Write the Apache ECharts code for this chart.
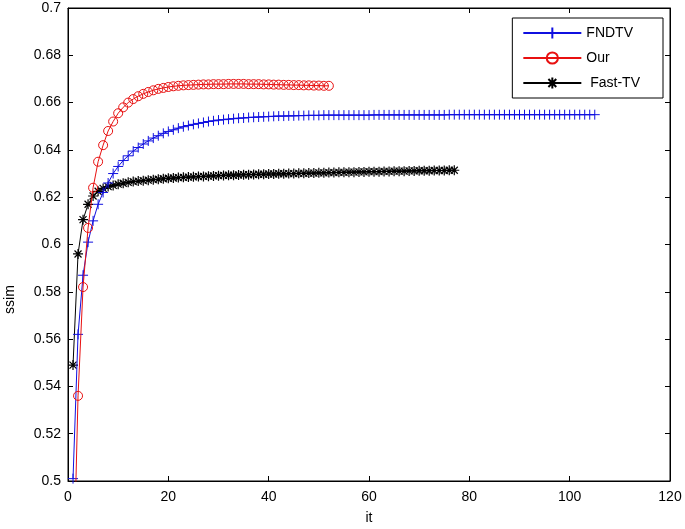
<!DOCTYPE html>
<html>
<head>
<meta charset="utf-8">
<script src="https://cdn.jsdelivr.net/npm/echarts@6/dist/echarts.min.js"></script>
<style>html,body{margin:0;padding:0;background:#fff}#c{width:685px;height:529px}</style>
</head>
<body>
<div id="c"></div>
<script>
var seriesNames = ['FNDTV', 'Our', ' Fast-TV'];
var xTicks = [0, 20, 40, 60, 80, 100, 120];
var yTicks = [0.5, 0.52, 0.54, 0.56, 0.58, 0.6, 0.62, 0.64, 0.66, 0.68, 0.7];

var fndtv = [0.501,0.562,0.587,0.601,0.610,0.617,0.622,0.626,0.630,0.633,
0.6355,0.6375,0.6395,0.641,0.6425,0.6438,0.645,0.646,0.647,0.6478,
0.6485,0.6492,0.6498,0.6503,0.6508,0.6512,0.6516,0.652,0.6523,0.6526,
0.6528,0.653,0.6532,0.6534,0.6535,0.6537,0.6538,0.6539,0.654,0.6541,
0.6542,0.6543,0.6543,0.6544,0.6544,0.6545,0.6545,0.6546,0.6546,0.6546,
0.6547,0.6547,0.6547,0.6547,0.6547,0.6547,0.6547,0.6547,0.6547,0.6547,
0.6548,0.6548,0.6548,0.6548,0.6548,0.6548,0.6548,0.6548,0.6548,0.6548,
0.6548,0.6548,0.6548,0.6548,0.6548,0.6549,0.6549,0.6549,0.6549,0.6549,
0.6549,0.6549,0.6549,0.6549,0.6549,0.6549,0.6549,0.6549,0.6549,0.6549,
0.6549,0.6549,0.6549,0.6549,0.6549,0.6549,0.6549,0.6549,0.6549,0.6549,
0.6549,0.6549,0.6549,0.6549,0.6549];

var our = [0.45,0.536,0.582,0.607,0.624,0.635,0.642,0.648,0.652,0.6555,
0.658,0.66,0.6615,0.6627,0.6637,0.6645,0.6652,0.6658,0.6662,0.6666,
0.6669,0.6671,0.6673,0.6674,0.6675,0.6676,0.6677,0.6677,0.6678,0.6678,
0.6678,0.6679,0.6679,0.6679,0.6679,0.6678,0.6678,0.6678,0.6677,0.6677,
0.6676,0.6676,0.6675,0.6675,0.6674,0.6674,0.6673,0.6673,0.6672,0.6672,
0.6671,0.6671];

var fastTV = [0.549,0.596,0.6105,0.617,0.6205,0.6225,0.6237,0.6245,0.625,0.6255,
0.6259,0.6263,0.6266,0.6268,0.627,0.6272,0.6274,0.6276,0.6278,0.628,
0.6281,0.6283,0.6284,0.6285,0.6286,0.6287,0.6288,0.6289,0.629,0.6291,
0.6292,0.6293,0.6293,0.6294,0.6295,0.6295,0.6296,0.6297,0.6297,0.6298,
0.6298,0.6299,0.6299,0.63,0.63,0.6301,0.6301,0.6302,0.6302,0.6303,
0.6303,0.6304,0.6304,0.6305,0.6305,0.6306,0.6306,0.6307,0.6307,0.6308,
0.6308,0.6308,0.6309,0.6309,0.631,0.631,0.631,0.6311,0.6311,0.6312,
0.6312,0.6312,0.6313,0.6313,0.6313,0.6314,0.6314];

function pairs(arr){ return arr.map(function(v,i){ return [i+1, v]; }); }

var FONT = 'Liberation Sans';
var plusPath = 'path://M0,-1L0,1M-1,0L1,0';
var starPath = 'path://M0,-1L0,1M-1,0L1,0M-0.7,-0.7L0.7,0.7M-0.7,0.7L0.7,-0.7';

var chart = echarts.init(document.getElementById('c'), null, {renderer:'canvas'});
var axisCommon = {
  axisLine: {show: true, onZero: false, lineStyle: {color: '#000', width: 1}},
  axisTick: {show: true, inside: true, length: 5, lineStyle: {color: '#000'}},
  splitLine: {show: false}
};
chart.setOption({
  animation: false,
  backgroundColor: '#fff',
  grid: {left: 68, right: 15, top: 8, bottom: 48, show: true, borderColor: '#000', borderWidth: 1,
    backgroundColor: 'transparent', outerBoundsMode: 'none', containLabel: false},
  legend: {
    orient: 'vertical', right: 22, top: 18,
    backgroundColor: '#fff', borderColor: '#000', borderWidth: 1,
    padding: [8, 23, 8, 10], itemGap: 11, itemWidth: 58, itemHeight: 14,
    textStyle: {fontFamily: FONT, fontSize: 14, color: '#000'},
    data: seriesNames
  },
  xAxis: [
    Object.assign({type: 'value', min: xTicks[0], max: xTicks[xTicks.length-1], interval: 20,
      name: 'it', nameLocation: 'middle', nameGap: 30,
      nameTextStyle: {fontFamily: FONT, fontSize: 14, color: '#000'},
      axisLabel: {fontFamily: FONT, fontSize: 14, color: '#000', margin: 9}}, axisCommon),
    Object.assign({type: 'value', position: 'top', min: 0, max: 120, interval: 20,
      axisLabel: {show: false}}, axisCommon)
  ],
  yAxis: [
    Object.assign({type: 'value', min: yTicks[0], max: yTicks[yTicks.length-1], interval: 0.02,
      name: 'ssim', nameLocation: 'middle', nameGap: 51,
      nameTextStyle: {fontFamily: FONT, fontSize: 14, color: '#000', padding: [0, 110, 0, 0]},
      axisLabel: {fontFamily: FONT, fontSize: 14, color: '#000', margin: 7}}, axisCommon),
    Object.assign({type: 'value', position: 'right', min: 0.5, max: 0.7, interval: 0.02,
      axisLabel: {show: false}}, axisCommon)
  ],
  series: [
    {name: seriesNames[0], type: 'line', data: pairs(fndtv), symbol: plusPath, symbolSize: 10,
      showAllSymbol: true, clip: true,
      lineStyle: {color: '#1010e0', width: 1},
      itemStyle: {color: '#1010e0', borderColor: '#1010e0', borderWidth: 1}, z: 3},
    {name: seriesNames[1], type: 'line', data: pairs(our), symbol: 'circle', symbolSize: 9,
      showAllSymbol: true, clip: true,
      lineStyle: {color: '#e81010', width: 1},
      itemStyle: {color: 'rgba(255,255,255,0)', borderColor: '#e81010', borderWidth: 1}, z: 4},
    {name: seriesNames[2], type: 'line', data: pairs(fastTV), symbol: starPath, symbolSize: 10,
      showAllSymbol: true, clip: true,
      lineStyle: {color: '#000', width: 1},
      itemStyle: {color: '#000', borderColor: '#000', borderWidth: 1.2}, z: 2}
  ]
});
</script>
</body>
</html>
